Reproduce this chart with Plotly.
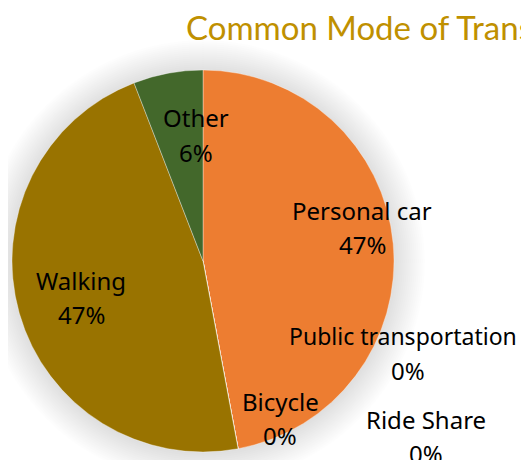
import plotly.graph_objects as go

# ---- data ----
categories = ["Personal car", "Public transportation", "Bicycle", "Ride Share", "Walking", "Other"]
values = [8, 0, 0, 0, 8, 1]
colors = ["#ED7D31", "#5B9BD5", "#A5A5A5", "#FFC000", "#997300", "#43682B"]
title_text = "Common Mode of Transportation"

# label block positions (screen pixel centers of the name line), layout only
label_pos = {
    "Personal car": (362, 210),
    "Public transportation": (403, 336),
    "Bicycle": (280, 401),
    "Ride Share": (426, 419),
    "Walking": (81, 280),
    "Other": (196, 118),
}
pct_pos = {
    "Public transportation": (408, 370),
}

W, H = 529, 460
OFF = 8  # page body margin offset
cx, cy, r = 203, 261, 191

def px(x):
    return (x - OFF) / W

def py(y):
    return 1 - (y - OFF) / H

total = sum(values)
pcts = [round(v / total * 100) for v in values]

fig = go.Figure()
fig.add_trace(go.Pie(
    labels=categories,
    values=values,
    sort=False,
    direction="clockwise",
    rotation=0,
    marker=dict(colors=colors, line=dict(color="rgba(255,255,255,0.6)", width=0.6)),
    textinfo="none",
    hoverinfo="label+percent",
    showlegend=False,
    domain=dict(x=[px(cx - r), px(cx + r)], y=[py(cy + r), py(cy - r)]),
))

# soft glow/shadow around the pie
shapes = []
for i in range(16):
    rr = r + 1 + i * 2.0
    shapes.append(dict(
        type="circle", xref="paper", yref="paper", layer="below",
        x0=px(cx - rr), x1=px(cx + rr), y0=py(cy + rr + 1), y1=py(cy - rr + 1),
        fillcolor="rgba(0,0,0,0.0075)", line=dict(width=0),
    ))

font = dict(family="Noto Sans", size=24, color="#000000")
font_small = dict(family="Noto Sans", size=23, color="#000000")
annotations = []
for cat, p in zip(categories, pcts):
    x, y = label_pos[cat]
    f = font_small if cat == "Public transportation" else font
    annotations.append(dict(x=px(x), y=py(y), xref="paper", yref="paper", text=cat,
                            showarrow=False, xanchor="center", yanchor="middle", font=f))
    x2, y2 = pct_pos.get(cat, (x, y + 34))
    annotations.append(dict(x=px(x2), y=py(y2), xref="paper", yref="paper", text=f"{p}%",
                            showarrow=False, xanchor="center", yanchor="middle", font=font))

fig.update_layout(
    width=W, height=H,
    margin=dict(l=0, r=0, t=0, b=0),
    paper_bgcolor="white",
    plot_bgcolor="white",
    title=dict(text=title_text, x=px(186), xanchor="left", xref="paper",
               y=py(28), yref="container", yanchor="middle",
               font=dict(family="Lato", size=33, color="#BF9000")),
    shapes=shapes,
    annotations=annotations,
)

fig.write_html("out.html")
